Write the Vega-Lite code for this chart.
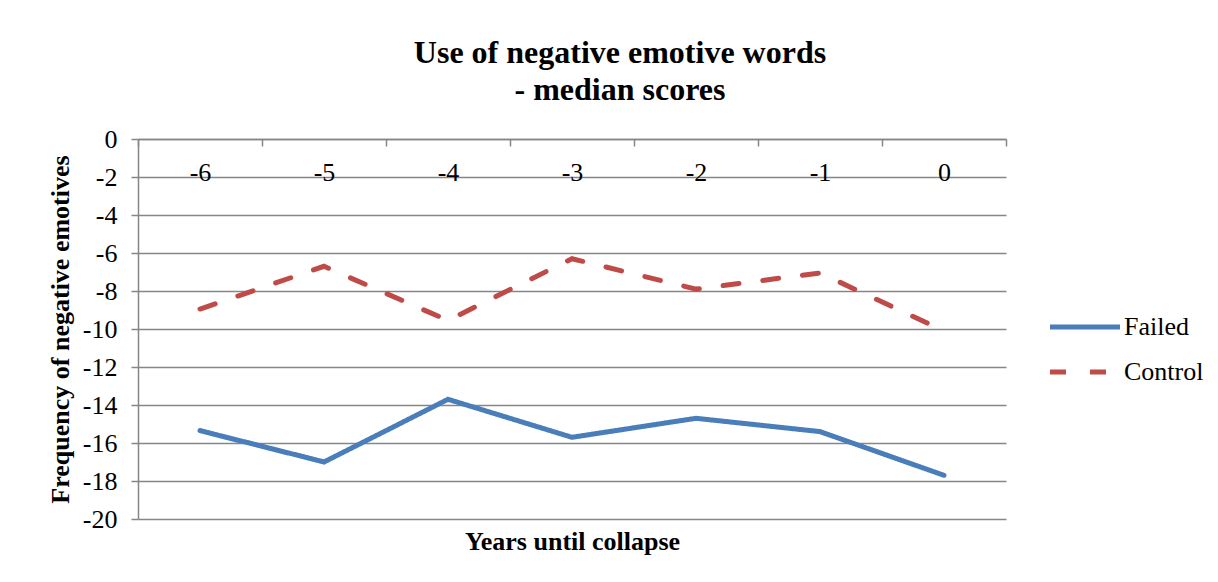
{
  "$schema": "https://vega.github.io/schema/vega-lite/v6.json",
  "width": 868,
  "height": 380,
  "autosize": {"type": "none"},
  "padding": {"left": 138, "top": 139, "right": 212, "bottom": 63},
  "background": "white",
  "title": {
    "text": ["Use of negative emotive words", "- median scores"],
    "font": "Liberation Serif",
    "fontSize": 32,
    "fontWeight": "bold",
    "color": "black",
    "anchor": "middle",
    "dx": 48,
    "lineHeight": 37,
    "offset": 19
  },
  "data": {
    "values": [
      {"year": -6, "series": "Failed", "value": -15.35},
      {"year": -5, "series": "Failed", "value": -17.0},
      {"year": -4, "series": "Failed", "value": -13.7},
      {"year": -3, "series": "Failed", "value": -15.7},
      {"year": -2, "series": "Failed", "value": -14.7},
      {"year": -1, "series": "Failed", "value": -15.4},
      {"year": 0, "series": "Failed", "value": -17.7},
      {"year": -6, "series": "Control", "value": -8.95},
      {"year": -5, "series": "Control", "value": -6.7},
      {"year": -4, "series": "Control", "value": -9.55},
      {"year": -3, "series": "Control", "value": -6.3},
      {"year": -2, "series": "Control", "value": -7.9},
      {"year": -1, "series": "Control", "value": -7.05},
      {"year": 0, "series": "Control", "value": -10.1}
    ]
  },
  "mark": {"type": "line", "strokeWidth": 5, "strokeCap": "round", "strokeJoin": "miter"},
  "encoding": {
    "x": {
      "field": "year",
      "type": "ordinal",
      "sort": "ascending",
      "scale": {"type": "band", "paddingInner": 0, "paddingOuter": 0},
      "axis": {
        "orient": "bottom",
        "offset": -380,
        "title": "Years until collapse",
        "titleFont": "Liberation Serif",
        "titleFontSize": 26,
        "titleFontWeight": "bold",
        "titleColor": "black",
        "titleBaseline": "alphabetic",
        "titleY": 410,
        "titleX": 434,
        "labelAngle": 0,
        "labelFont": "Liberation Serif",
        "labelFontSize": 26,
        "labelColor": "black",
        "labelBaseline": "alphabetic",
        "labelPadding": 34,
        "tickBand": "extent",
        "tickSize": 7,
        "tickColor": "#868686",
        "tickWidth": 1.5,
        "domainColor": "#868686",
        "domainWidth": 1.5,
        "grid": false
      }
    },
    "y": {
      "field": "value",
      "type": "quantitative",
      "scale": {"domain": [-20, 0], "nice": false, "zero": false},
      "axis": {
        "values": [-20, -18, -16, -14, -12, -10, -8, -6, -4, -2, 0],
        "labelExpr": "'' + datum.value",
        "title": "Frequency of negative emotives",
        "titleFont": "Liberation Serif",
        "titleFontSize": 26,
        "titleFontWeight": "bold",
        "titleColor": "black",
        "titleAngle": -90,
        "titleX": -78,
        "titleY": 190,
        "titleAlign": "center",
        "titleBaseline": "middle",
        "labelFont": "Liberation Serif",
        "labelFontSize": 26,
        "labelColor": "black",
        "labelPadding": 14,
        "tickSize": 7,
        "tickColor": "#868686",
        "tickWidth": 1.5,
        "domainColor": "#868686",
        "domainWidth": 1.5,
        "grid": true,
        "gridColor": "#868686",
        "gridWidth": 1.5
      }
    },
    "color": {
      "field": "series",
      "type": "nominal",
      "sort": ["Failed", "Control"],
      "scale": {"domain": ["Failed", "Control"], "range": ["#4A7EBB", "#BE4B48"]},
      "legend": {
        "title": null,
        "orient": "none",
        "legendX": 927,
        "legendY": 168,
        "symbolType": "M-2,0H2",
        "symbolSize": 1225,
        "symbolStrokeWidth": 5,
        "symbolFillColor": "transparent",
        "labelFont": "Liberation Serif",
        "labelFontSize": 26,
        "labelColor": "black",
        "labelOffset": 19,
        "rowPadding": 12
      }
    },
    "strokeDash": {
      "field": "series",
      "type": "nominal",
      "sort": ["Failed", "Control"],
      "scale": {"domain": ["Failed", "Control"], "range": [[1, 0], [16, 24]]},
      "legend": null
    }
  },
  "config": {
    "font": "Liberation Serif",
    "view": {"stroke": null}
  }
}
